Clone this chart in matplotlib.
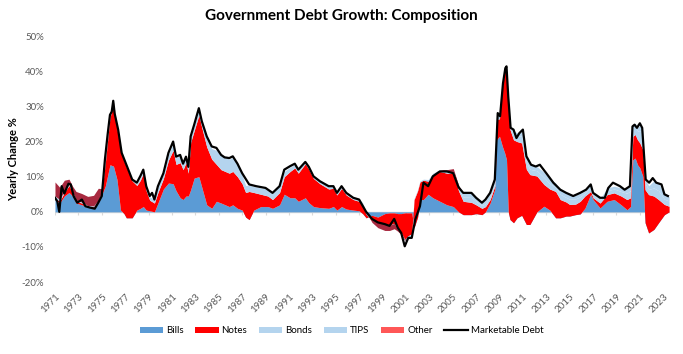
import matplotlib
matplotlib.use("Agg")
import matplotlib.pyplot as plt
import numpy as np
from matplotlib.patches import Patch
from matplotlib.lines import Line2D

plt.rcParams['font.family'] = ['Lato', 'DejaVu Sans']

# ---- Marketable debt total (yearly % change) ----
total_dates = [1971.0, 1971.2, 1971.37, 1971.57, 1971.8, 1972.15, 1972.35, 1972.6, 1972.9, 1973.3,
               1973.6, 1974.0, 1974.4, 1974.7, 1975.0, 1975.27, 1975.5, 1975.7, 1975.85, 1975.98,
               1976.1, 1976.4, 1976.7, 1977.1, 1977.6, 1978.0, 1978.3, 1978.55, 1978.8, 1979.1,
               1979.3, 1979.5, 1979.8, 1980.27, 1980.7, 1981.1, 1981.35, 1981.7, 1981.95, 1982.2,
               1982.4, 1982.6, 1982.9, 1983.3, 1983.55, 1983.97, 1984.4, 1984.8, 1985.2, 1985.5,
               1985.9, 1986.2, 1986.6, 1987.0, 1987.6, 1988.2, 1989.0, 1989.6, 1990.2, 1990.6,
               1991.1, 1991.5, 1991.8, 1992.4, 1992.7, 1993.1, 1993.65, 1994.4, 1994.8, 1995.1,
               1995.5, 1995.9, 1996.5, 1997.0, 1997.6, 1998.1, 1998.6, 1999.2, 1999.6, 2000.0,
               2000.3, 2000.6, 2000.9, 2001.2, 2001.5, 2001.8, 2002.2, 2002.5, 2002.9, 2003.3,
               2003.9, 2004.5, 2005.05, 2005.5, 2005.9, 2006.6, 2007.0, 2007.5, 2007.8, 2008.2,
               2008.6, 2008.85, 2009.05, 2009.3, 2009.5, 2009.6, 2009.75, 2009.95, 2010.2, 2010.45,
               2010.7, 2011.0, 2011.3, 2011.7, 2012.1, 2012.45, 2013.0, 2013.6, 2014.2, 2014.7,
               2015.3, 2015.9, 2016.4, 2016.8, 2017.0, 2017.6, 2018.0, 2018.3, 2018.7, 2019.3,
               2019.7, 2020.15, 2020.37, 2020.55, 2020.75, 2021.0, 2021.2, 2021.5, 2021.8, 2022.1,
               2022.4, 2022.85, 2023.1, 2023.4]
marketable_debt = [4.0, 3.0, 0.0, 7.3, 5.2, 8.0, 7.8, 4.4, 2.6, 3.5,
                   1.6, 1.2, 0.9, 2.6, 4.5, 14.9, 22.0, 27.6, 28.5, 31.6,
                   28.0, 23.4, 16.8, 13.4, 9.2, 8.3, 10.2, 12.0, 7.3, 4.5,
                   5.4, 3.5, 7.3, 11.0, 16.8, 20.0, 15.7, 16.2, 13.7, 15.7,
                   12.8, 21.5, 24.8, 29.5, 25.8, 21.5, 18.6, 18.2, 16.2, 15.5,
                   15.3, 15.8, 13.7, 11.0, 7.8, 7.3, 6.8, 5.4, 7.3, 12.0,
                   13.0, 13.7, 12.0, 14.2, 12.8, 10.1, 8.7, 7.3, 7.3, 5.4,
                   7.3, 5.4, 4.0, 3.5, 0.0, -2.0, -3.0, -3.5, -4.0, -2.0,
                   -4.5, -6.0, -9.8, -7.4, -7.4, -2.2, 1.6, 8.3, 7.3, 10.1,
                   11.5, 11.5, 11.0, 7.0, 5.4, 5.4, 4.0, 2.6, 3.5, 5.4,
                   9.2, 28.1, 27.2, 36.6, 40.9, 41.4, 32.8, 23.9, 23.4, 21.0,
                   22.4, 23.4, 15.8, 13.4, 12.9, 13.4, 11.0, 8.3, 6.3, 5.4,
                   4.5, 5.4, 6.3, 7.8, 5.4, 4.0, 4.0, 6.8, 8.3, 7.3,
                   6.3, 7.3, 24.3, 24.8, 23.9, 25.2, 23.9, 9.2, 8.3, 9.6,
                   8.3, 7.8, 5.0, 4.5]

# ---- Components (contribution to yearly % change) ----
comp_dates = [1971.0, 1971.4, 1971.8, 1972.2, 1972.5, 1972.8, 1973.3, 1973.8, 1974.3, 1974.7,
              1975.0, 1975.3, 1975.7, 1976.0, 1976.3, 1976.6, 1976.9, 1977.1, 1977.6, 1978.0,
              1978.3, 1978.55, 1978.8, 1979.1, 1979.5, 1979.8, 1980.27, 1980.7, 1981.1, 1981.35,
              1981.7, 1981.95, 1982.2, 1982.4, 1982.6, 1982.9, 1983.3, 1983.55, 1983.97, 1984.4,
              1984.8, 1985.2, 1985.9, 1986.2, 1986.6, 1987.0, 1987.3, 1987.6, 1988.0, 1988.6,
              1989.2, 1989.6, 1990.2, 1990.6, 1991.1, 1991.5, 1991.8, 1992.4, 1992.7, 1993.1,
              1993.65, 1994.4, 1994.8, 1995.1, 1995.5, 1995.9, 1996.5, 1997.0, 1997.3, 1997.6,
              1998.1, 1998.6, 1999.2, 1999.6, 2000.0, 2000.3, 2000.6, 2000.9, 2001.2, 2001.5,
              2001.7, 2002.0, 2002.2, 2002.5, 2002.9, 2003.3, 2003.9, 2004.5, 2005.05, 2005.5,
              2005.9, 2006.6, 2007.0, 2007.5, 2007.8, 2008.2, 2008.6, 2008.75, 2009.0, 2009.25,
              2009.45, 2009.6, 2009.75, 2009.9, 2010.2, 2010.5, 2010.9, 2011.3, 2011.6, 2012.2,
              2012.8, 2013.3, 2013.8, 2014.2, 2014.7, 2015.0, 2015.5, 2015.9, 2016.3, 2016.8,
              2017.0, 2017.6, 2018.2, 2018.8, 2019.4, 2019.9, 2020.2, 2020.4, 2020.6, 2020.8,
              2021.0, 2021.25, 2021.45, 2021.75, 2022.2, 2022.6, 2023.1, 2023.5]
bills = [3.5, 2.5, 4.5, 5.5, 4.5, 2.5, 2.0, 1.3, 1.3, 2.5,
         4.9, 7.3, 13.4, 13.0, 9.2, 0.5, -0.5, -1.7, -1.7, 0.5,
         1.0, 1.5, 0.5, 0.3, 0.0, 2.5, 6.5, 8.2, 8.0, 6.0,
         4.0, 3.5, 4.5, 4.5, 6.3, 9.6, 10.0, 7.0, 2.0, 1.0,
         3.0, 2.5, 1.5, 2.0, 1.0, 0.5, -1.5, -2.2, 0.5, 1.5,
         1.5, 1.0, 2.0, 5.0, 4.0, 4.0, 3.0, 4.0, 2.6, 1.5,
         1.2, 1.0, 1.5, 0.5, 1.5, 0.8, 0.5, 0.3, -0.5, -1.7,
         -1.0, -1.5, -0.5, -0.3, -0.3, -0.5, -0.5, -0.3, -0.3, -0.3,
         -4.5, -1.5, 3.5, 3.5, 5.0, 4.0, 3.0, 2.0, 1.5, 0.0,
         -0.8, -0.8, -0.5, -0.8, 0.0, 2.5, 6.4, 20.5, 21.5, 18.6,
         16.7, 14.8, 0.0, -2.2, -3.1, -1.7, -1.0, -3.6, -3.6, 0.0,
         1.6, 0.5, -1.7, -1.7, -1.2, -1.2, -0.8, -0.6, 1.0, 5.0,
         3.5, 1.1, 3.0, 3.5, 2.0, 0.6, 1.5, 14.8, 15.3, 13.4,
         12.5, 10.1, -3.1, -6.0, -5.0, -3.1, -0.8, 0.0]
notes = [0.5, 0.5, 1.0, 2.0, 1.0, 0.5, 0.5, 0.3, 0.2, 0.5,
         0.5, 6.5, 13.5, 17.5, 14.5, 17.5, 15.0, 14.5, 10.5, 7.0,
         8.0, 9.5, 5.5, 3.0, 2.5, 3.0, 3.0, 6.5, 9.5, 7.5,
         10.0, 8.5, 9.5, 6.5, 13.5, 13.5, 17.5, 17.0, 16.5, 14.0,
         10.5, 9.5, 9.5, 9.5, 9.0, 7.5, 7.0, 8.0, 5.0, 3.5,
         3.0, 2.5, 3.5, 5.0, 7.5, 8.5, 8.0, 9.7, 9.5, 8.0,
         6.8, 5.5, 5.2, 4.3, 5.2, 4.0, 3.0, 2.7, 2.5, 1.0,
         -1.5, -1.5, -3.0, -3.5, -3.0, -4.5, -5.5, -7.5, -6.5, -6.0,
         8.0, 7.5, 5.0, 5.5, 4.0, 6.5, 8.5, 9.0, 9.5, 6.0,
         3.8, 3.5, 2.5, 1.8, 1.5, 1.0, 1.0, 5.7, 5.0, 17.0,
         23.3, 24.7, 31.9, 25.6, 23.6, 21.7, 20.6, 15.7, 14.2, 10.2,
         6.2, 6.0, 7.5, 5.2, 4.0, 3.3, 3.0, 3.6, 3.5, 0.8,
         0.5, 1.4, 1.9, 1.9, 2.5, 2.9, 2.5, 6.7, 6.7, 7.1,
         7.1, 7.6, 9.4, 10.9, 9.5, 6.6, 2.9, 1.6]
bonds = [0.5, 0.5, 0.5, 0.3, 0.3, 0.3, 0.3, 0.2, 0.2, 0.2,
         0.2, 0.3, 0.5, 0.5, 0.5, 0.5, 0.5, 0.5, 0.5, 0.5,
         0.7, 0.8, 1.0, 1.0, 1.0, 1.5, 1.5, 1.5, 2.0, 2.0,
         2.0, 1.5, 1.5, 1.5, 1.5, 1.5, 1.5, 1.5, 2.5, 3.0,
         4.0, 4.0, 4.0, 4.0, 3.5, 2.5, 2.0, 1.8, 1.7, 1.8,
         2.0, 1.8, 1.8, 1.5, 1.2, 1.0, 1.0, 0.5, 0.5, 0.6,
         0.7, 0.7, 0.6, 0.6, 0.6, 0.6, 0.5, 0.5, 0.3, 0.2,
         0.0, -0.3, -0.3, -0.3, -0.3, -0.3, -0.3, -0.3, -0.3, -0.3,
         0.0, 0.0, 0.0, 0.0, -0.3, 0.0, 0.0, 0.0, 0.0, 0.5,
         1.2, 1.4, 1.0, 0.8, 0.8, 0.8, 0.8, 0.7, 0.7, 0.5,
         0.5, 0.5, 0.5, 0.8, 1.5, 1.5, 2.0, 2.0, 1.5, 1.5,
         2.0, 1.5, 1.2, 1.5, 1.3, 1.5, 1.5, 1.3, 0.8, 1.0,
         0.8, 0.7, 1.1, 1.1, 1.3, 1.8, 2.0, 2.3, 2.2, 2.5,
         3.5, 3.5, 1.8, 1.5, 2.3, 2.5, 1.5, 1.5]
tips = [0.0, 0.0, 0.0, 0.0, 0.0, 0.0, 0.0, 0.0, 0.0, 0.0,
        0.0, 0.0, 0.0, 0.0, 0.0, 0.0, 0.0, 0.0, 0.0, 0.0,
        0.0, 0.0, 0.0, 0.0, 0.0, 0.0, 0.0, 0.0, 0.0, 0.0,
        0.0, 0.0, 0.0, 0.0, 0.0, 0.0, 0.0, 0.0, 0.0, 0.0,
        0.0, 0.0, 0.0, 0.0, 0.0, 0.0, 0.0, 0.0, 0.0, 0.0,
        0.0, 0.0, 0.0, 0.0, 0.0, 0.0, 0.0, 0.0, 0.0, 0.0,
        0.0, 0.0, 0.0, 0.0, 0.0, 0.0, 0.0, 0.1, 0.3, 0.5,
        0.5, 0.3, 0.3, 0.3, 0.3, 0.3, 0.3, 0.3, 0.3, 0.3,
        0.3, 0.3, 0.3, 0.3, 0.5, 0.5, 0.5, 0.5, 0.5, 0.8,
        1.0, 1.2, 1.0, 0.8, 1.0, 1.0, 1.0, 1.0, 1.0, 0.6,
        0.4, 0.5, 0.4, 0.6, 1.0, 1.0, 1.2, 1.5, 1.5, 1.2,
        1.5, 1.5, 1.2, 1.3, 1.2, 1.2, 1.0, 1.0, 0.6, 0.8,
        0.6, 0.5, 0.8, 0.8, 1.0, 1.4, 1.3, 1.0, 1.0, 1.0,
        1.5, 2.0, 1.5, 1.0, 2.0, 2.3, 1.2, 1.2]
other = [4.0, 3.5, 3.0, 1.5, 1.5, 2.5, 2.4, 2.6, 3.0, 3.5,
         1.0, 0.5, 0.3, 0.3, 0.0, 0.0, 0.0, 0.0, 0.0, 0.0,
         0.0, 0.0, 0.0, 0.0, 0.0, 0.0, 0.0, 0.0, 0.0, 0.0,
         0.0, 0.0, 0.0, 0.0, 0.0, 0.0, 0.0, 0.0, 0.0, 0.0,
         0.0, 0.0, 0.0, 0.0, 0.0, 0.0, 0.0, 0.0, 0.0, 0.0,
         0.0, 0.0, 0.0, 0.0, 0.0, 0.0, 0.0, 0.0, 0.0, 0.0,
         0.0, 0.0, 0.0, 0.0, 0.0, 0.0, 0.0, 0.0, 0.0, 0.0,
         -1.0, -1.5, -1.8, -1.5, -1.5, -0.5, -0.5, -0.3, 0.0, 0.0,
         0.0, 0.0, 0.0, 0.0, 0.0, 0.0, 0.0, 0.5, 0.8, 0.3,
         0.0, 0.0, 0.0, 0.0, 0.0, 0.0, 0.0, 0.0, 0.0, 0.0,
         0.0, 0.0, 0.0, 0.0, 0.0, 0.0, 0.0, 0.0, 0.0, 0.0,
         0.0, 0.0, 0.0, 0.0, 0.0, 0.0, 0.0, 0.0, 0.0, 0.0,
         0.0, 0.0, 0.0, 0.0, 0.0, 0.0, 0.0, 0.0, 0.0, 0.0,
         0.0, 0.0, 0.0, 0.0, 0.0, 0.0, 0.0, 0.0]

series_names = ['Bills', 'Notes', 'Bonds', 'TIPS', 'Other']
area_colors = ['#5B9BD5', '#FF0000', '#B4D4EE', '#B4D4EE', '#A8293F']
legend_colors = ['#5B9BD5', '#FF0000', '#B4D4EE', '#B4D4EE', '#FF5757']

tick_years = list(range(1971, 2024, 2))
tick_labels = [str(y) for y in tick_years]
y_ticks = [-20, -10, 0, 10, 20, 30, 40, 50]

fig = plt.figure(figsize=(6.83, 3.54), dpi=100)
ax = fig.add_axes([0.0805, 0.203, 0.900, 0.695])

x = np.array(comp_dates)
comps = [np.array(s, dtype=float) for s in (bills, notes, bonds, tips, other)]
prev = np.zeros_like(x)
for vals, col in zip(comps, area_colors):
    cur = prev + vals
    ax.fill_between(x, prev, cur, color=col, linewidth=0, zorder=2)
    prev = cur

ax.axhline(0, color='#D9D9D9', lw=1.0, zorder=1)
ax.vlines(tick_years, -0.9, 0, color='#D9D9D9', lw=0.8, zorder=1)

ax.plot(total_dates, marketable_debt, color='black', lw=1.6, zorder=4)

ax.set_xlim(1971, 2023.55)
ax.set_ylim(-20, 50)
ax.set_yticks(y_ticks)
ax.set_yticklabels([f'{v}%' for v in y_ticks], fontsize=7, color='#595959')
ax.set_xticks(tick_years)
ax.set_xticklabels(tick_labels, rotation=45, ha='right', va='top',
                   rotation_mode='anchor', fontsize=7, color='#595959')
ax.tick_params(axis='both', length=0)
ax.tick_params(axis='y', pad=8)
ax.tick_params(axis='x', pad=7)
for sp in ax.spines.values():
    sp.set_visible(False)

ax.set_ylabel('Yearly Change %', fontsize=8, fontweight='bold', labelpad=2)
fig.suptitle('Government Debt Growth: Composition', x=0.5, y=0.975,
             fontsize=11, fontweight='bold')

handles = [Patch(facecolor=c, edgecolor='none', label=n)
           for n, c in zip(series_names, legend_colors)]
handles.append(Line2D([0], [0], color='black', lw=1.6, label='Marketable Debt'))
fig.legend(handles=handles, loc='center', bbox_to_anchor=(0.5, 0.065), ncol=6,
           frameon=False, fontsize=7, handlelength=2.4, handleheight=0.6,
           handletextpad=0.3, columnspacing=1.2)

fig.savefig('out.png', dpi=100)
